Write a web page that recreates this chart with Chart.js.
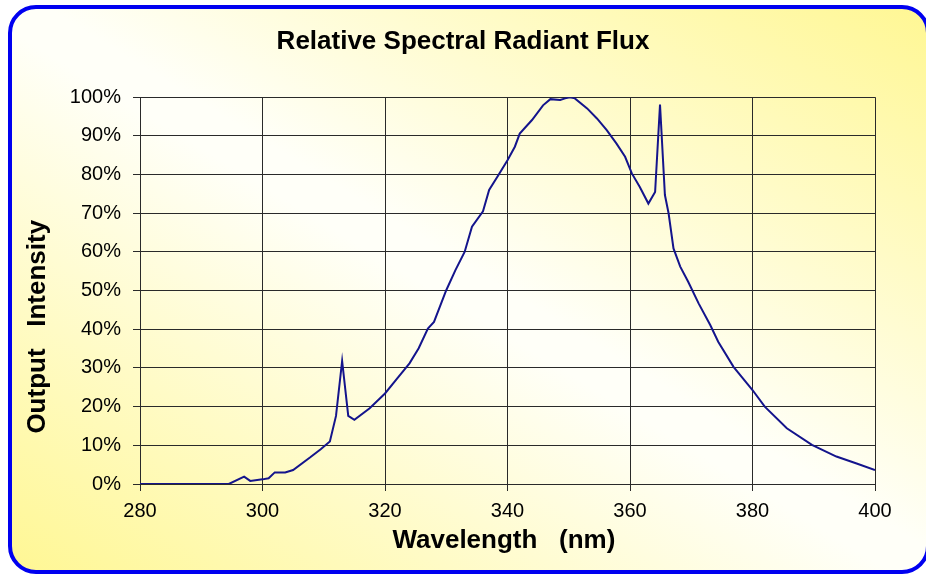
<!DOCTYPE html>
<html>
<head>
<meta charset="utf-8">
<script src="https://cdn.jsdelivr.net/npm/chart.js@4"></script>
<style>
  html, body { margin: 0; padding: 0; width: 926px; height: 574px; overflow: hidden; background: #fff; }
  #frame {
    position: absolute; left: 8px; top: 5px; width: 914px; height: 561px;
    border: 4px solid #0000f0; border-radius: 28px;
    background: linear-gradient(to top right, #fff794 0%, #fffff8 48%, #fffff8 52%, #fff794 100%);
  }
  #wrap { position: absolute; left: 0; top: 0; width: 926px; height: 574px; }
</style>
</head>
<body>
<div id="frame"></div>
<div id="wrap"><canvas id="fluxChart"></canvas></div>
<script>
// Bước sóng (nm) và cường độ tương đối (%)
const wavelengths = [280, 294.5, 297, 298, 300, 301, 302, 303.7, 305, 307.8, 309.5, 311, 312, 313, 314, 315,
  317.5, 320, 322, 324, 325.5, 327, 328, 330, 331.5, 333, 334.2, 336, 337, 338.5, 340, 341.2, 342, 344,
  345.8, 347, 348.6, 349.4, 350.2, 351, 353, 354.6, 356.2, 357.8, 359.2, 360.3, 361.6, 363, 364.1, 364.9,
  365.7, 366.3, 367.1, 368.2, 369.5, 371.2, 373.1, 374.4, 376.9, 379.1, 380, 382, 385.6, 389.7, 393.7, 397, 400];
const intensity = [0, 0, 1.9, 0.8, 1.2, 1.5, 3, 3, 3.6, 6.9, 9, 11, 17.6, 31.8, 17.6, 16.6,
  19.6, 23.4, 27.3, 31.2, 35.1, 40.2, 41.9, 50.1, 55.3, 60, 66.5, 70.5, 76, 79.8, 83.7, 87.2, 90.6, 94.1,
  97.9, 99.5, 99.3, 99.7, 100, 99.7, 97.1, 94.5, 91.5, 88, 84.6, 80.3, 76.8, 72.5, 75.5, 98.1,
  74.7, 70, 60.9, 56.2, 52.3, 46.7, 41.1, 36.8, 30.3, 26, 24.3, 20, 14.4, 10.1, 7.1, 5.3, 3.6];
const xTicks = [280, 300, 320, 340, 360, 380, 400];

const points = wavelengths.map((w, i) => ({ x: w, y: intensity[i] }));

const ctx = document.getElementById('fluxChart').getContext('2d');
const gridColor = '#2a2a2a';
const fontFamily = 'Liberation Sans, Arial, sans-serif';

const fluxChart = new Chart(ctx, {
  type: 'line',
  data: {
    datasets: [{
      data: points,
      borderColor: '#14148c',
      borderWidth: 2,
      pointRadius: 0,
      tension: 0,
      fill: false
    }]
  },
  options: {
    responsive: true,
    maintainAspectRatio: false,
    animation: false,
    layout: { padding: 0 },
    plugins: {
      legend: { display: false },
      tooltip: { enabled: false },
      title: {
        display: true,
        text: 'Relative Spectral Radiant Flux',
        color: '#000',
        font: { family: fontFamily, size: 26, weight: 'bold' },
        padding: { top: 26, bottom: 40 }
      }
    },
    scales: {
      x: {
        type: 'linear',
        min: 280, max: 400,
        afterBuildTicks: s => { s.ticks = xTicks.map(v => ({ value: v })); },
        afterFit: s => { s.height = 90; },
        grid: { color: gridColor, lineWidth: 1, tickLength: 7, drawTicks: true },
        border: { color: gridColor },
        ticks: {
          color: '#000', padding: 8, maxRotation: 0,
          font: { family: fontFamily, size: 20 }
        },
        title: {
          display: true,
          text: 'Wavelength   (nm) ',
          color: '#000',
          font: { family: fontFamily, size: 26, weight: 'bold' },
          padding: { top: 0, bottom: 18 }
        }
      },
      y: {
        min: 0, max: 100,
        afterFit: s => { s.width = 140; },
        grid: { color: gridColor, lineWidth: 1, tickLength: 7 },
        border: { color: gridColor },
        ticks: {
          stepSize: 10, color: '#000', padding: 12,
          font: { family: fontFamily, size: 20 },
          callback: v => v + '%'
        },
        title: {
          display: true,
          text: 'Output   Intensity          ',
          color: '#000',
          font: { family: fontFamily, size: 26, weight: 'bold' },
          padding: { top: 22, bottom: 0 }
        }
      },
      yRight: {
        position: 'right',
        display: true,
        grid: { display: false },
        border: { display: false },
        ticks: { display: false },
        afterFit: s => { s.width = 51; }
      }
    }
  }
});
</script>
</body>
</html>
